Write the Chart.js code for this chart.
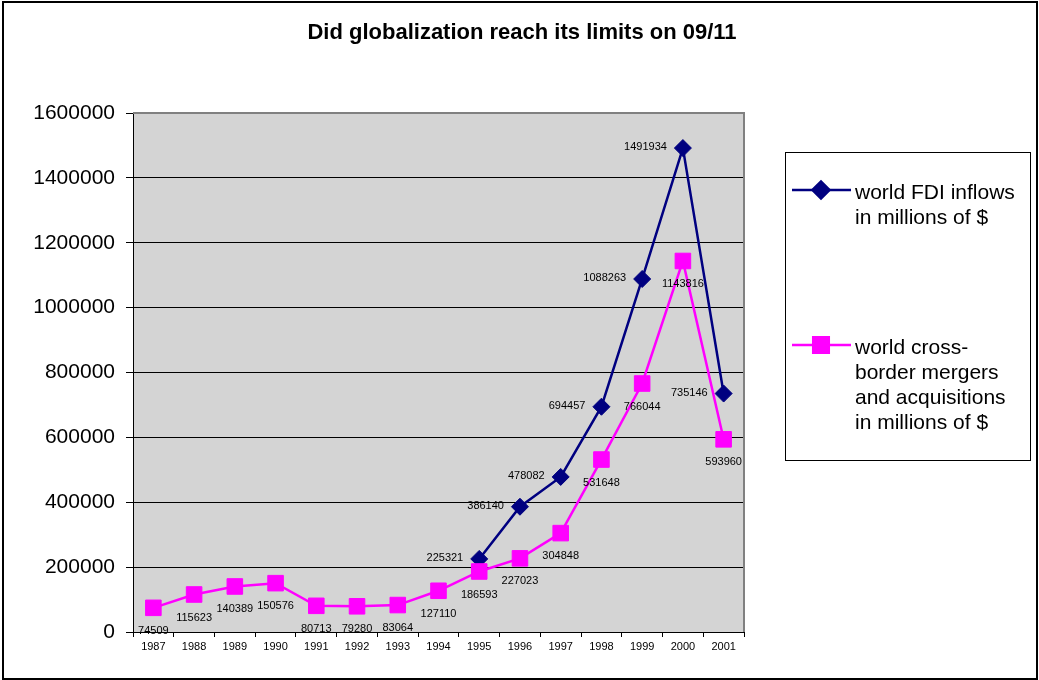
<!DOCTYPE html>
<html lang="en">
<head>
<meta charset="UTF-8" />
<title>Did globalization reach its limits on 09/11</title>
<style>
  body { margin: 0; background: #fff; }
  canvas { display: block; }
</style>
</head>
<body>
<canvas id="chart" width="1039" height="680"></canvas>
<script src="https://cdn.jsdelivr.net/npm/chart.js@4.4.1/dist/chart.umd.min.js"></script>
<script>
// values
const years = ["1987", "1988", "1989", "1990", "1991", "1992", "1993", "1994",
               "1995", "1996", "1997", "1998", "1999", "2000", "2001"];
const fdiInflows = [null, null, null, null, null, null, null, null,
                    225321, 386140, 478082, 694457, 1088263, 1491934, 735146];
const crossBorderMA = [74509, 115623, 140389, 150576, 80713, 79280, 83064, 127110,
                       186593, 227023, 304848, 531648, 766044, 1143816, 593960];
const yMin = 0;
const yMax = 1600000;
const yStep = 200000;
const chartTitle = "Did globalization reach its limits on 09/11";
const fdiLegend = ["world FDI inflows", "in millions of $"];
const maLegend = ["world cross-", "border mergers", "and acquisitions", "in millions of $"];

const FONT = "'Liberation Sans', Arial, sans-serif";
const NAVY = "#000080";
const MAGENTA = "#FF00FF";

// grey plot area, title and outer frame
const plotBg = {
  id: "plotBg",
  beforeDraw(chart) {
    const { ctx, chartArea: a } = chart;
    ctx.save();
    ctx.fillStyle = "#fff";
    ctx.fillRect(0, 0, chart.width, chart.height);
    ctx.fillStyle = "#d4d4d4";
    ctx.fillRect(a.left, a.top, a.right - a.left, a.bottom - a.top);
    ctx.restore();
  },
  beforeDatasetsDraw(chart) {
    const { ctx, chartArea: a } = chart;
    ctx.save();
    ctx.strokeStyle = "#808080";
    ctx.lineWidth = 2;
    ctx.beginPath();
    ctx.moveTo(a.left, a.top);
    ctx.lineTo(a.right, a.top);
    ctx.lineTo(a.right, a.bottom);
    ctx.stroke();
    ctx.restore();
  },
  afterDraw(chart) {
    const ctx = chart.ctx;
    ctx.save();
    ctx.fillStyle = "#000";
    ctx.font = "bold 22px " + FONT;
    ctx.textAlign = "center";
    ctx.textBaseline = "middle";
    ctx.fillText(chartTitle, 522, 33);
    ctx.strokeStyle = "#000";
    ctx.lineWidth = 2;
    ctx.strokeRect(3, 2, chart.width - 5, chart.height - 3);
    ctx.restore();
  }
};

// value labels next to each point (excel style)
const pointLabels = {
  id: "pointLabels",
  afterDatasetsDraw(chart) {
    const ctx = chart.ctx;
    ctx.save();
    ctx.font = "11px " + FONT;
    ctx.fillStyle = "#000";
    ctx.textBaseline = "middle";
    chart.data.datasets.forEach((ds, i) => {
      const meta = chart.getDatasetMeta(i);
      meta.data.forEach((pt, j) => {
        const v = ds.data[j];
        if (v == null) return;
        if (ds.labelSide === "left") {
          ctx.textAlign = "right";
          ctx.fillText(String(v), pt.x - 16, pt.y - 1);
        } else {
          ctx.textAlign = "center";
          ctx.fillText(String(v), pt.x, pt.y + 23);
        }
      });
    });
    ctx.restore();
  }
};

// boxed legend on the right, like the original
const boxLegend = {
  id: "boxLegend",
  afterDraw(chart) {
    const ctx = chart.ctx;
    ctx.save();
    ctx.strokeStyle = "#000";
    ctx.lineWidth = 1;
    ctx.strokeRect(785.5, 152.5, 245, 308);

    const entries = [
      { lines: fdiLegend, color: NAVY, style: "rectRot", r: 8.5, y: 190 },
      { lines: maLegend, color: MAGENTA, style: "rect", r: 11, y: 345 }
    ];
    ctx.font = "21px " + FONT;
    ctx.textAlign = "left";
    ctx.textBaseline = "middle";
    entries.forEach(e => {
      ctx.strokeStyle = e.color;
      ctx.lineWidth = 2.5;
      ctx.beginPath();
      ctx.moveTo(792, e.y);
      ctx.lineTo(851, e.y);
      ctx.stroke();
      ctx.fillStyle = e.color;
      Chart.helpers.drawPoint(ctx, { pointStyle: e.style, radius: e.r, borderWidth: 1, rotation: 0 }, 821, e.y);
      ctx.fill();
      ctx.fillStyle = "#000";
      e.lines.forEach((t, k) => ctx.fillText(t, 855, e.y + 3 + k * 25));
    });
    ctx.restore();
  }
};

new Chart(document.getElementById("chart"), {
  type: "line",
  data: {
    labels: years,
    datasets: [
      {
        label: fdiLegend.join(" "),
        data: fdiInflows,
        borderColor: NAVY,
        backgroundColor: NAVY,
        borderWidth: 2.5,
        pointStyle: "rectRot",
        pointRadius: 8.5,
        pointBorderWidth: 1,
        tension: 0,
        order: 2,
        labelSide: "left"
      },
      {
        label: maLegend.join(" "),
        data: crossBorderMA,
        borderColor: MAGENTA,
        backgroundColor: MAGENTA,
        borderWidth: 2.5,
        pointStyle: "rect",
        pointRadius: 11,
        pointBorderWidth: 1,
        tension: 0,
        order: 1,
        labelSide: "below"
      }
    ]
  },
  options: {
    responsive: false,
    animation: false,
    layout: { padding: { left: 0, right: 295, top: 113, bottom: 0 } },
    plugins: {
      legend: { display: false },
      tooltip: { enabled: false },
      title: { display: false }
    },
    scales: {
      x: {
        offset: true,
        grid: { offset: true, drawOnChartArea: false, color: "#000", tickLength: 5 },
        border: { color: "#000", width: 1 },
        ticks: { color: "#000", font: { family: FONT, size: 11 }, padding: 3, maxRotation: 0, autoSkip: false },
        afterFit(scale) { scale.height = 48; }
      },
      y: {
        min: yMin,
        max: yMax,
        grid: { color: "#000", lineWidth: 1, tickLength: 7 },
        border: { color: "#000", width: 1 },
        ticks: {
          stepSize: yStep,
          color: "#000",
          font: { family: FONT, size: 21 },
          padding: 11,
          callback: v => String(v)
        },
        afterFit(scale) { scale.width = 133; }
      }
    }
  },
  plugins: [plotBg, pointLabels, boxLegend]
});
</script>
</body>
</html>
